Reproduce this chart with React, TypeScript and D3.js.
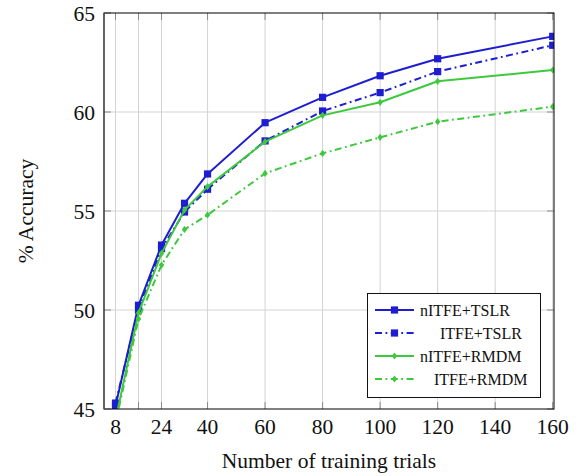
import React from "react";
import * as d3 from "d3";

const trials = [8, 16, 24, 32, 40, 60, 80, 100, 120, 160];
const nitfeTslr = [45.15, 50.24, 53.28, 55.39, 56.87, 59.46, 60.74, 61.83, 62.69, 63.82];
const itfeTslr = [45.3, 50.0, 53.1, 54.95, 56.1, 58.54, 60.05, 60.98, 62.04, 63.37];
const nitfeRmdm = [44.45, 49.85, 52.86, 55.05, 56.23, 58.5, 59.83, 60.49, 61.55, 62.12];
const itfeRmdm = [44.3, 49.55, 52.27, 54.07, 54.8, 56.9, 57.91, 58.72, 59.51, 60.27];

const xGridTicks = [8, 16, 24, 40, 60, 80, 100, 120, 140, 160];
const xLabelTicks = [8, 24, 40, 60, 80, 100, 120, 140, 160];
const yTicks = [45, 50, 55, 60, 65];

const seriesNames = ["nITFE+TSLR", "ITFE+TSLR", "nITFE+RMDM", "ITFE+RMDM"];
const seriesValues = [nitfeTslr, itfeTslr, nitfeRmdm, itfeRmdm];

const BLUE = "#1e1ed0";
const GREEN = "#3ec83e";
const styles = [
  { color: BLUE, dash: null, marker: "square" },
  { color: BLUE, dash: "7,3.5,1.8,3.5", marker: "square" },
  { color: GREEN, dash: null, marker: "diamond" },
  { color: GREEN, dash: "7,3.5,1.8,3.5", marker: "diamond" },
];
const legendTextX = [420, 440, 420, 434];

const W = 587;
const H = 476;
const left = 104, right = 554, top = 13, bottom = 409;
const serif = "'Liberation Serif', 'DejaVu Serif', serif";

function Marker({ type, x, y, color }: { type: string; x: number; y: number; color: string }) {
  if (type === "square") {
    return <rect x={x - 3.6} y={y - 3.6} width={7.2} height={7.2} fill={color} />;
  }
  const r = 3.6;
  return (
    <path d={`M${x},${y - r} L${x + r * 0.75},${y} L${x},${y + r} L${x - r * 0.75},${y} Z`} fill={color} />
  );
}

export default function App() {
  const x = d3.scaleLinear().domain([4, 160.45]).range([left, right]);
  const y = d3.scaleLinear().domain([45, 65]).range([bottom, top]);
  const line = d3
    .line<[number, number]>()
    .x((d) => x(d[0]))
    .y((d) => y(d[1]));

  const legendY = [310, 333, 356, 379];

  return (
    <svg width={W} height={H} style={{ position: "absolute", left: 0, top: 0, background: "#fff" }}>
      <defs>
        <clipPath id="plotclip">
          <rect x={left} y={top} width={right - left} height={bottom - top} />
        </clipPath>
      </defs>
      <rect x={0} y={0} width={W} height={H} fill="#fff" />
      {/* grid */}
      {xGridTicks.map((t) => (
        <line key={"gx" + t} x1={x(t)} x2={x(t)} y1={top} y2={bottom} stroke="#d3d3d3" strokeWidth={1} />
      ))}
      {yTicks.slice(1, -1).map((t) => (
        <line key={"gy" + t} x1={left} x2={right} y1={y(t)} y2={y(t)} stroke="#d3d3d3" strokeWidth={1} />
      ))}
      {/* tick marks */}
      {xGridTicks.map((t) => (
        <g key={"tx" + t}>
          <line x1={x(t)} x2={x(t)} y1={bottom} y2={bottom - 7} stroke="#8a8a8a" strokeWidth={1} />
          <line x1={x(t)} x2={x(t)} y1={top} y2={top + 7} stroke="#8a8a8a" strokeWidth={1} />
        </g>
      ))}
      {yTicks.map((t) => (
        <g key={"ty" + t}>
          <line x1={left} x2={left + 7} y1={y(t)} y2={y(t)} stroke="#8a8a8a" strokeWidth={1} />
          <line x1={right} x2={right - 7} y1={y(t)} y2={y(t)} stroke="#8a8a8a" strokeWidth={1} />
        </g>
      ))}
      {/* series */}
      <g clipPath="url(#plotclip)">
        {seriesValues.map((vals, i) => {
          const pts: [number, number][] = trials.map((t, j) => [t, vals[j]]);
          const s = styles[i];
          return (
            <g key={"s" + i}>
              <path
                d={line(pts) || ""}
                fill="none"
                stroke={s.color}
                strokeWidth={2}
                strokeDasharray={s.dash || undefined}
                strokeLinejoin="round"
              />
              {pts.map((p, j) => (
                <Marker key={j} type={s.marker} x={x(p[0])} y={y(p[1])} color={s.color} />
              ))}
            </g>
          );
        })}
      </g>
      {/* frame */}
      <rect x={left} y={top} width={right - left} height={bottom - top} fill="none" stroke="#000" strokeWidth={1} />
      <line x1={left} x2={left} y1={top} y2={bottom} stroke="#555" strokeWidth={1.3} />
      {/* tick labels */}
      {xLabelTicks.map((t) => (
        <text key={"lx" + t} x={x(t)} y={434} textAnchor="middle" fontFamily={serif} fontSize={21.5} fill="#111">
          {t}
        </text>
      ))}
      {yTicks.map((t) => (
        <text key={"ly" + t} x={95} y={y(t) + 7.5} textAnchor="end" fontFamily={serif} fontSize={21.5} fill="#111">
          {t}
        </text>
      ))}
      {/* axis titles */}
      <text x={(left + right) / 2} y={468} textAnchor="middle" fontFamily={serif} fontSize={21.5} fill="#111">
        Number of training trials
      </text>
      <text
        transform={`translate(33,${(top + bottom) / 2}) rotate(-90)`}
        textAnchor="middle"
        fontFamily={serif}
        fontSize={21.5}
        fill="#111"
      >
        % Accuracy
      </text>
      {/* legend */}
      <rect x={367.5} y={293.5} width={173} height={104} fill="#fff" stroke="#111" strokeWidth={1} />
      {seriesNames.map((name, i) => {
        const s = styles[i];
        const ly = legendY[i];
        return (
          <g key={"lg" + i}>
            <line
              x1={375}
              x2={414}
              y1={ly}
              y2={ly}
              stroke={s.color}
              strokeWidth={2}
              strokeDasharray={s.dash || undefined}
            />
            <Marker type={s.marker} x={394.5} y={ly} color={s.color} />
            <text x={legendTextX[i]} y={ly + 5.5} fontFamily={serif} fontSize={16} fill="#111">
              {name}
            </text>
          </g>
        );
      })}
    </svg>
  );
}
